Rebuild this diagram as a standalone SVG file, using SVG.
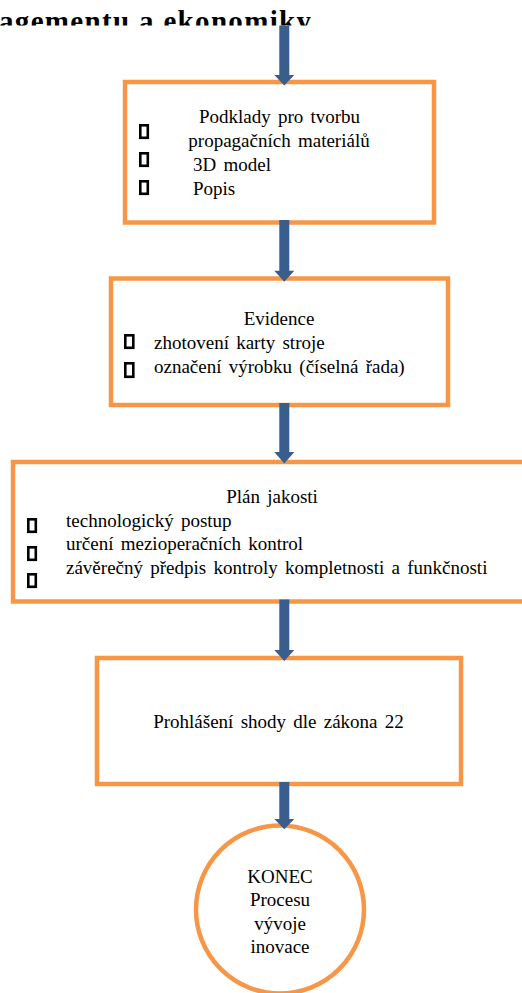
<svg xmlns="http://www.w3.org/2000/svg" width="522" height="993" viewBox="0 0 522 993">
  <style>
    .box { fill: #ffffff; stroke: #F79646; stroke-width: 4.5; }
    .bul { fill: none; stroke: #000000; stroke-width: 2.6; }
    .t { font-family: 'Liberation Serif', 'Times New Roman', 'DejaVu Serif', serif; font-size: 19px; fill: #000000; word-spacing: 2.5px; }
    .c { text-anchor: middle; }
    .title { font-family: 'Liberation Serif', 'Times New Roman', serif; font-size: 29px; font-weight: bold; fill: #000000; }
    .arr { fill: #3A5E8C; }
  </style>
  <defs>
    <clipPath id="titleClip">
      <rect x="0" y="0" width="522" height="25.5"/>
    </clipPath>
  </defs>
  <rect width="522" height="993" fill="#ffffff"/>

  <g id="title" clip-path="url(#titleClip)">
    <text class="title" x="-1" y="30.5" textLength="312" lengthAdjust="spacing">agementu a ekonomiky</text>
  </g>

  <g id="node-podklady">
    <rect class="box" x="125" y="82" width="309" height="140.5"/>
    <rect class="bul" x="140.3" y="125.3" width="7.5" height="12.5"/>
    <rect class="bul" x="140.3" y="153.3" width="7.5" height="12.5"/>
    <rect class="bul" x="140.3" y="181.3" width="7.5" height="12.5"/>
    <text class="t c" x="279.5" y="123">Podklady pro tvorbu</text>
    <text class="t c" x="279" y="147">propagačních materiálů</text>
    <text class="t" x="193" y="171">3D model</text>
    <text class="t" x="193" y="195">Popis</text>
  </g>

  <g id="node-evidence">
    <rect class="box" x="111" y="278.5" width="337" height="126.5"/>
    <rect class="bul" x="125.3" y="335.3" width="8" height="12.5"/>
    <rect class="bul" x="125.3" y="363.3" width="8" height="13.5"/>
    <text class="t c" x="279" y="325">Evidence</text>
    <text class="t" x="154" y="349">zhotovení karty stroje</text>
    <text class="t" x="154" y="373">označení výrobku (číselná řada)</text>
  </g>

  <g id="node-plan">
    <rect class="box" x="13" y="462" width="520" height="139.5"/>
    <rect class="bul" x="28.3" y="519.3" width="7.5" height="12.5"/>
    <rect class="bul" x="28.3" y="547.3" width="7.5" height="12.5"/>
    <rect class="bul" x="28.3" y="574.3" width="7.5" height="12.5"/>
    <text class="t c" x="272" y="503">Plán jakosti</text>
    <text class="t" x="66" y="527">technologický postup</text>
    <text class="t" x="66" y="550">určení mezioperačních kontrol</text>
    <text class="t" x="66" y="574">závěrečný předpis kontroly kompletnosti a funkčnosti</text>
  </g>

  <g id="node-prohlaseni">
    <rect class="box" x="97" y="658" width="364" height="126"/>
    <text class="t c" x="278.5" y="728">Prohlášení shody dle zákona 22</text>
  </g>

  <g id="node-konec">
    <circle class="box" cx="280" cy="909.5" r="84"/>
    <text class="t c" x="280" y="882.5">KONEC</text>
    <text class="t c" x="280" y="906">Procesu</text>
    <text class="t c" x="280" y="929.5">vývoje</text>
    <text class="t c" x="280" y="953">inovace</text>
  </g>

  <g id="connectors">
    <polygon class="arr" points="279.3,25.5 289.3,25.5 289.3,75 294.3,75 284.3,85.5 274.3,75 279.3,75"/>
    <polygon class="arr" points="279.3,220 289.3,220 289.3,270.7 294.3,270.7 284.3,281.7 274.3,270.7 279.3,270.7"/>
    <polygon class="arr" points="279.3,403 289.3,403 289.3,452 294.3,452 284.3,463.5 274.3,452 279.3,452"/>
    <polygon class="arr" points="279.3,599.5 289.3,599.5 289.3,650 294.3,650 284.3,661 274.3,650 279.3,650"/>
    <polygon class="arr" points="279.3,782 289.3,782 289.3,819 294.3,819 284.3,829.3 274.3,819 279.3,819"/>
  </g>
</svg>
